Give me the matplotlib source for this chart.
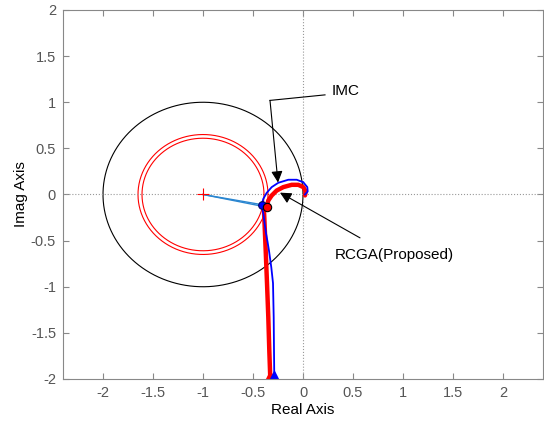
import numpy as np
import matplotlib
matplotlib.use("Agg")
import matplotlib.pyplot as plt

plt.rcParams['font.family'] = ['Liberation Sans', 'DejaVu Sans']
plt.rcParams['axes.unicode_minus'] = False

# Nyquist curves (real, imag), from the low-frequency end up to the origin
rcga_re = [-0.327, -0.337, -0.347, -0.36, -0.373, -0.387, -0.39, -0.363, -0.347,
           -0.313, -0.263, -0.197, -0.113, -0.047, 0.003, 0.027, 0.02]
rcga_im = [-2.0, -1.69, -1.33, -0.96, -0.61, -0.25, -0.18, -0.137, -0.065,
           -0.011, 0.043, 0.08, 0.105, 0.105, 0.08, 0.033, -0.01]

imc_re = [-0.287, -0.29, -0.293, -0.30, -0.317, -0.34, -0.355, -0.37, -0.383, -0.395,
          -0.413, -0.397, -0.363, -0.313, -0.247, -0.147, -0.063, 0.003, 0.043,
          0.047, 0.02]
imc_im = [-2.0, -1.69, -1.33, -0.96, -0.79, -0.61, -0.51, -0.42, -0.32, -0.22,
          -0.11, -0.047, 0.018, 0.08, 0.127, 0.16, 0.16, 0.133, 0.08, 0.033, 0.0]

# points where each curve is closest to -1
rcga_pt = (-0.363, -0.137)
imc_pt = (-0.413, -0.11)

unit_r = 1.0
margin_r = [0.65, 0.61]

fig = plt.figure(figsize=(5.44, 4.23), dpi=100)
ax = fig.add_axes([63 / 544, 1 - 379 / 423, 480 / 544, 369 / 423])

th = np.linspace(0, 2 * np.pi, 400)
ax.plot(-1 + unit_r * np.cos(th), unit_r * np.sin(th), color='black', lw=0.8)
for r in margin_r:
    ax.plot(-1 + r * np.cos(th), r * np.sin(th), color='red', lw=0.8)

ax.axhline(0, color='#999999', ls=':', lw=0.8)
ax.axvline(0, color='#999999', ls=':', lw=0.8)

ax.plot([-1, imc_pt[0]], [0, imc_pt[1]], color='#2a86d0', lw=1.0)
ax.plot([-1, rcga_pt[0]], [0, rcga_pt[1]], color='#2a86d0', lw=1.0)
ax.plot(-1, 0, marker='+', color='red', ms=9, mew=0.8)

ax.plot(rcga_re, rcga_im, color='red', lw=3.2, solid_capstyle='round')
ax.plot(imc_re, imc_im, color='blue', lw=1.3)

ax.plot(*imc_pt, 'o', ms=5.5, mfc='blue', mec='#000060', mew=0.8)
ax.plot(*rcga_pt, 'o', ms=6, mfc='red', mec='black', mew=0.8)

ax.plot(rcga_re[0], rcga_im[0], '^', ms=12, color='red', clip_on=True)
ax.plot(imc_re[0], imc_im[0], '^', ms=12, color='blue', clip_on=True)

# labels with arrows
ax.plot([0.22, -0.33], [1.08, 1.02], color='black', lw=0.8)
ax.annotate('', xy=(-0.25, 0.13), xytext=(-0.33, 1.02),
            arrowprops=dict(arrowstyle='-|>', color='black', lw=0.8,
                            mutation_scale=17, shrinkA=0, shrinkB=0))
ax.text(0.29, 1.12, 'IMC', fontsize=11, va='center', ha='left')

ax.annotate('', xy=(-0.23, 0.02), xytext=(0.57, -0.47),
            arrowprops=dict(arrowstyle='-|>', color='black', lw=0.8,
                            mutation_scale=17, shrinkA=0, shrinkB=0))
ax.text(0.32, -0.66, 'RCGA(Proposed)', fontsize=11, va='center', ha='left')

ax.set_xlim(-2.4, 2.4)
ax.set_ylim(-2, 2)
ax.set_xticks(np.arange(-2, 2.01, 0.5))
ax.set_yticks(np.arange(-2, 2.01, 0.5))
ax.set_xticklabels(['-2', '-1.5', '-1', '-0.5', '0', '0.5', '1', '1.5', '2'])
ax.set_yticklabels(['-2', '-1.5', '-1', '-0.5', '0', '0.5', '1', '1.5', '2'])
ax.tick_params(direction='in', top=True, right=True, length=4, width=0.8,
               color='#888888', labelcolor='#555555', labelsize=10.5, pad=5)
for s in ax.spines.values():
    s.set_color('#888888')
    s.set_linewidth(0.8)

ax.set_xlabel('Real Axis', fontsize=11, labelpad=2)
ax.set_ylabel('Imag Axis', fontsize=11, labelpad=2)

fig.savefig('out.png', dpi=100)
